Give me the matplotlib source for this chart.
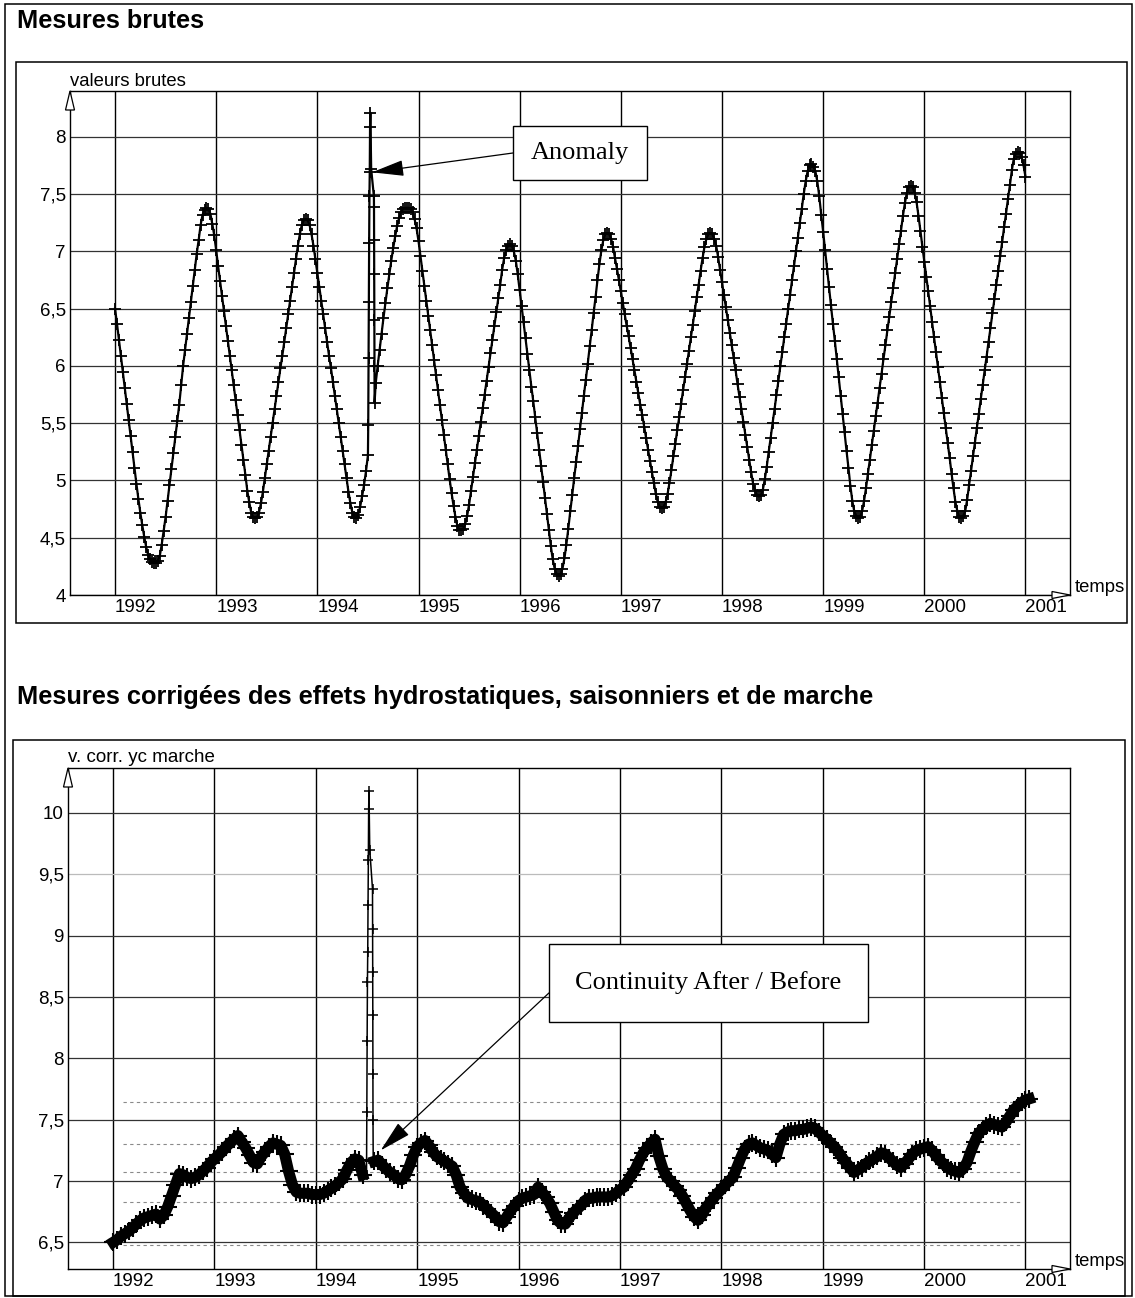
# Raw and corrected dam measurements, 1992-2001
import numpy as np
import matplotlib
matplotlib.use("Agg")
import matplotlib.pyplot as plt
from matplotlib.patches import Rectangle, Polygon

plt.rcParams['font.family'] = ['Liberation Sans', 'DejaVu Sans']

# weekly raw readings, first one on 1 Jan 1992
raw_start = 1992.0
raw_step = 1 / 52
raw_values = [
    6.50, 6.37, 6.23, 6.09, 5.95, 5.81, 5.67, 5.53, 5.39, 5.25, 5.11, 4.97, 4.84, 4.72, 4.61, 4.51, 4.42, 4.35, 4.31, 4.29, 4.28,
    4.28, 4.30, 4.34, 4.44, 4.56, 4.68, 4.82, 4.96, 5.10, 5.24, 5.38, 5.52, 5.66, 5.83, 6.00, 6.14, 6.28, 6.42, 6.56, 6.70, 6.84, 6.98, 7.10, 7.23, 7.32, 7.36, 7.38,
    7.37, 7.33, 7.24, 7.14, 7.01, 6.87, 6.74, 6.61, 6.48, 6.35, 6.22, 6.09, 5.96, 5.83, 5.70, 5.57, 5.44, 5.31, 5.18, 5.05, 4.91, 4.81, 4.72, 4.68, 4.67,
    4.68, 4.72, 4.80, 4.90, 5.02, 5.14, 5.26, 5.38, 5.50, 5.62, 5.74, 5.86, 5.98, 6.09, 6.21, 6.33, 6.45, 6.57, 6.69, 6.81, 6.93, 7.05, 7.15, 7.23, 7.27, 7.28,
    7.27, 7.23, 7.15, 7.05, 6.93, 6.81, 6.69, 6.57, 6.45, 6.33, 6.21, 6.09, 5.98, 5.86, 5.74, 5.62, 5.50, 5.38, 5.26, 5.14, 5.02, 4.90, 4.80, 4.72, 4.68, 4.67,
    4.70, 4.77, 4.86, 4.96, 5.08, 5.20, 5.33, 5.46, 5.60, 5.85, 6.00, 6.14, 6.28, 6.42, 6.55, 6.68, 6.80, 6.92, 7.03, 7.13, 7.22, 7.29, 7.34, 7.37, 7.38, 7.38, 7.38, 7.37,
    7.34, 7.28, 7.20, 7.09, 6.96, 6.83, 6.70, 6.57, 6.44, 6.31, 6.18, 6.05, 5.92, 5.79, 5.66, 5.53, 5.40, 5.27, 5.14, 5.01, 4.89, 4.78, 4.68, 4.60, 4.57, 4.57,
    4.58, 4.62, 4.69, 4.79, 4.91, 5.03, 5.15, 5.27, 5.39, 5.51, 5.63, 5.75, 5.87, 5.99, 6.11, 6.23, 6.35, 6.47, 6.59, 6.71, 6.84, 6.94, 7.01, 7.05, 7.06,
    7.05, 7.00, 6.92, 6.80, 6.66, 6.52, 6.38, 6.24, 6.10, 5.96, 5.82, 5.69, 5.55, 5.41, 5.27, 5.13, 4.99, 4.85, 4.71, 4.57, 4.43, 4.31, 4.23, 4.18, 4.17,
    4.18, 4.23, 4.32, 4.44, 4.58, 4.73, 4.87, 5.02, 5.16, 5.30, 5.45, 5.59, 5.74, 5.88, 6.02, 6.17, 6.31, 6.46, 6.60, 6.75, 6.89, 7.01, 7.10, 7.15, 7.16,
    7.15, 7.11, 7.04, 6.94, 6.85, 6.75, 6.65, 6.55, 6.45, 6.35, 6.26, 6.16, 6.06, 5.96, 5.86, 5.76, 5.66, 5.57, 5.47, 5.37, 5.27, 5.17, 5.07, 4.98, 4.88, 4.81, 4.77, 4.76,
    4.77, 4.81, 4.88, 4.98, 5.09, 5.21, 5.32, 5.44, 5.55, 5.67, 5.79, 5.90, 6.02, 6.13, 6.25, 6.36, 6.48, 6.60, 6.71, 6.83, 6.94, 7.04, 7.11, 7.15, 7.16,
    7.15, 7.11, 7.05, 6.95, 6.84, 6.73, 6.62, 6.51, 6.40, 6.29, 6.18, 6.07, 5.96, 5.84, 5.73, 5.62, 5.51, 5.40, 5.29, 5.18, 5.07, 4.97, 4.91, 4.87, 4.86,
    4.87, 4.92, 5.01, 5.12, 5.25, 5.37, 5.50, 5.62, 5.75, 5.87, 6.00, 6.12, 6.25, 6.37, 6.50, 6.62, 6.75, 6.87, 7.00, 7.12, 7.25, 7.37, 7.50, 7.61, 7.70, 7.75, 7.76,
    7.74, 7.70, 7.61, 7.48, 7.32, 7.17, 7.01, 6.85, 6.69, 6.53, 6.37, 6.22, 6.06, 5.90, 5.74, 5.58, 5.42, 5.26, 5.11, 4.95, 4.82, 4.73, 4.69, 4.67,
    4.68, 4.73, 4.82, 4.93, 5.06, 5.18, 5.31, 5.43, 5.56, 5.68, 5.81, 5.93, 6.06, 6.18, 6.31, 6.43, 6.56, 6.68, 6.81, 6.93, 7.06, 7.18, 7.31, 7.42, 7.51, 7.56, 7.57,
    7.56, 7.51, 7.43, 7.31, 7.18, 7.04, 6.91, 6.78, 6.65, 6.52, 6.38, 6.25, 6.12, 5.99, 5.86, 5.72, 5.59, 5.46, 5.33, 5.20, 5.06, 4.93, 4.81, 4.73, 4.68, 4.67,
    4.69, 4.73, 4.83, 4.96, 5.08, 5.21, 5.33, 5.46, 5.58, 5.71, 5.83, 5.96, 6.08, 6.21, 6.33, 6.46, 6.58, 6.71, 6.83, 6.96, 7.08, 7.21, 7.33, 7.46, 7.58, 7.71, 7.81, 7.85, 7.87,
    7.86, 7.82, 7.75, 7.65,
]

# corrected values (hydrostatic, seasonal and drift effects removed), every 2 weeks
corr_start = 1992.0
corr_step = 2 / 52
corr_values = [
    6.50, 6.52, 6.55, 6.57, 6.59, 6.62, 6.65, 6.68, 6.70, 6.71, 6.72, 6.73, 6.69,
    6.72, 6.79, 6.88, 6.97, 7.06, 7.05, 7.03, 7.02, 7.03, 7.05, 7.08, 7.11, 7.15,
    7.18, 7.21, 7.24, 7.28, 7.31, 7.34, 7.37, 7.32, 7.27, 7.21, 7.15, 7.14, 7.20,
    7.24, 7.28, 7.31, 7.30, 7.29, 7.22, 7.08, 6.97, 6.91, 6.90, 6.90, 6.90, 6.89,
    6.89, 6.89, 6.90, 6.92, 6.94, 6.96, 6.99, 7.02, 7.09, 7.15, 7.18, 7.17, 7.05,
    7.04, 7.10, 7.16, 7.17, 7.13, 7.10, 7.07, 7.05, 7.02, 7.01, 7.05, 7.12, 7.21,
    7.28, 7.31, 7.33, 7.29, 7.24, 7.20, 7.18, 7.16, 7.14, 7.12, 7.05, 6.95, 6.90,
    6.86, 6.85, 6.84, 6.83, 6.80, 6.77, 6.74, 6.71, 6.67, 6.66, 6.71, 6.76, 6.80,
    6.84, 6.86, 6.87, 6.88, 6.89, 6.95, 6.91, 6.87, 6.82, 6.75, 6.68, 6.65, 6.65,
    6.70, 6.74, 6.77, 6.80, 6.84, 6.86, 6.86, 6.87, 6.87, 6.87, 6.87, 6.88, 6.90,
    6.93, 6.95, 7.00, 7.05, 7.10, 7.17, 7.23, 7.27, 7.31, 7.34, 7.20, 7.10, 7.03,
    7.00, 6.96, 6.93, 6.88, 6.82, 6.76, 6.71, 6.68, 6.72, 6.78, 6.82, 6.86, 6.90,
    6.93, 6.97, 7.00, 7.03, 7.11, 7.19, 7.26, 7.30, 7.31, 7.29, 7.27, 7.26, 7.25,
    7.22, 7.19, 7.30, 7.38, 7.40, 7.41, 7.41, 7.42, 7.42, 7.43, 7.44, 7.43, 7.40,
    7.37, 7.34, 7.31, 7.28, 7.24, 7.19, 7.15, 7.11, 7.07, 7.09, 7.11, 7.14, 7.16,
    7.18, 7.20, 7.23, 7.22, 7.19, 7.16, 7.13, 7.11, 7.14, 7.18, 7.22, 7.25, 7.26,
    7.27, 7.28, 7.25, 7.21, 7.17, 7.14, 7.11, 7.09, 7.08, 7.07, 7.10, 7.15, 7.24,
    7.32, 7.39, 7.42, 7.45, 7.47, 7.46, 7.45, 7.44, 7.48, 7.53, 7.58, 7.61, 7.64,
    7.66, 7.67,
]

# the anomaly in summer 1994: closely spaced readings
anomaly_dates = [1994.500, 1994.503, 1994.506, 1994.509, 1994.512, 1994.515, 1994.518, 1994.521, 1994.524,
                 1994.532, 1994.559, 1994.560, 1994.561, 1994.562, 1994.563, 1994.564, 1994.566]
anomaly_raw = [5.22, 5.48, 6.07, 6.56, 7.07, 7.48, 7.69, 8.09, 8.21,
               7.72, 7.48, 7.39, 7.10, 6.80, 6.40, 6.00, 5.68]
anomaly_corr = [7.05, 7.56, 8.14, 8.62, 8.87, 9.25, 9.62, 10.03, 10.18,
                9.70, 9.38, 9.05, 8.70, 8.35, 7.87, 7.50, 7.15]

# dotted reference levels on the corrected chart
ref_levels = [7.64, 7.30, 7.07, 6.83, 6.48]

years = list(range(1992, 2002))
raw_ticks = [4, 4.5, 5, 5.5, 6, 6.5, 7, 7.5, 8]
raw_labels = ['4', '4,5', '5', '5,5', '6', '6,5', '7', '7,5', '8']
corr_ticks = [6.5, 7, 7.5, 8, 8.5, 9, 9.5, 10]
corr_labels = ['6,5', '7', '7,5', '8', '8,5', '9', '9,5', '10']


def merge(start, step, values, extra_t, extra_v):
    t = start + step * np.arange(len(values))
    v = np.array(values)
    keep = (t < extra_t[0] - 1e-4) | (t > extra_t[-1] + 1e-4)
    tt = np.concatenate([t[keep], extra_t])
    vv = np.concatenate([v[keep], extra_v])
    order = np.argsort(tt)
    return tt[order], vv[order], t[keep], v[keep]


raw_t, raw_v, _, _ = merge(raw_start, raw_step, raw_values, anomaly_dates, anomaly_raw)
corr_t, corr_v, reg_t, reg_v = merge(corr_start, corr_step, corr_values, anomaly_dates, anomaly_corr)

W, H = 1135, 1298
fig = plt.figure(figsize=(W / 100, H / 100), dpi=100)


def fx(x):
    return x / W


def fy(y):
    return 1 - y / H


ax1 = fig.add_axes([fx(70), fy(595), fx(1070) - fx(70), fy(91) - fy(595)])
ax2 = fig.add_axes([fx(68), fy(1269), fx(1070) - fx(68), fy(768) - fy(1269)])

TICK = 13.5


def style(ax, ylim, ticks, labels, light=()):
    ax.set_xlim(1991.555, 2001.44)
    ax.set_ylim(*ylim)
    ax.set_xticks(years)
    ax.set_xticklabels([str(y) for y in years], ha='left', fontsize=TICK)
    ax.set_yticks(ticks)
    ax.set_yticklabels(labels, fontsize=TICK)
    ax.tick_params(length=0, pad=3)
    for y in years:
        ax.axvline(y, color='black', lw=1.0, zorder=1)
    for v in ticks:
        ax.axhline(v, color='#bbbbbb' if v in light else '#333333', lw=0.9, zorder=1)
    for s in ax.spines.values():
        s.set_color('black')
        s.set_linewidth(1.0)
    # hollow arrow heads at the end of both axes
    wpx = ax.get_position().width * W
    hpx = ax.get_position().height * H
    ax.add_patch(Polygon([[0, 1], [-4.5 / wpx, 1 - 19 / hpx], [4.5 / wpx, 1 - 19 / hpx]],
                         closed=True, fc='white', ec='black', lw=0.9,
                         transform=ax.transAxes, clip_on=False, zorder=6))
    ax.add_patch(Polygon([[1, 0], [1 - 18 / wpx, 3.5 / hpx], [1 - 18 / wpx, -3.5 / hpx]],
                         closed=True, fc='white', ec='black', lw=0.9,
                         transform=ax.transAxes, clip_on=False, zorder=6))


style(ax1, (4.0, 8.40), raw_ticks, raw_labels)
style(ax2, (6.283, 10.366), corr_ticks, corr_labels, light=(9.5,))

# top chart: raw values
ax1.plot(raw_t, raw_v, color='black', lw=1.6, marker='+', ms=8, mew=1.3, zorder=3)

# bottom chart: corrected values, drawn as a thick noisy band
ax2.hlines(ref_levels, 1992.1, 2000.95, colors='#8a8a8a', linestyles=(0, (3, 3)), lw=0.8, zorder=1)
spike = (corr_t > 1994.47) & (corr_t < 1994.59)
ax2.plot(corr_t[spike], corr_v[spike], color='black', lw=1.1, marker='+', ms=7, mew=1.1, zorder=3)
before = reg_t < 1994.5
after = reg_t > 1994.567
for part in (before, after):
    ax2.plot(reg_t[part], reg_v[part], color='black', lw=8, marker='+', ms=13, mew=1.5,
             solid_joinstyle='round', zorder=3)

# annotations
arrow = dict(arrowstyle='-|>,head_length=1.0,head_width=0.25', color='black', lw=0.9,
             shrinkA=0, shrinkB=0, mutation_scale=20)
ax1.add_patch(Rectangle((0.443, 0.8234), 0.134, 0.1072, transform=ax1.transAxes,
                        fc='white', ec='black', lw=1.0, zorder=6))
ax1.text(0.510, 0.877, 'Anomaly', transform=ax1.transAxes, ha='center', va='center',
         family='Liberation Serif', fontsize=19, zorder=7)
ax1.annotate('', xy=(1994.54, 7.69), xytext=(0.443, 0.877), textcoords='axes fraction',
             arrowprops=arrow, zorder=7)

ax2.add_patch(Rectangle((0.480, 0.493), 0.318, 0.156, transform=ax2.transAxes,
                        fc='white', ec='black', lw=1.0, zorder=6))
ax2.text(0.639, 0.571, 'Continuity After / Before', transform=ax2.transAxes, ha='center',
         va='center', family='Liberation Serif', fontsize=19, zorder=7)
ax2.annotate('', xy=(1994.64, 7.25), xytext=(0.480, 0.551), textcoords='axes fraction',
             arrowprops=arrow, zorder=7)

# titles and axis names
fig.text(fx(17), fy(21), 'Mesures brutes', fontsize=18.3, fontweight='bold', va='center')
fig.text(fx(17), fy(697), 'Mesures corrigées des effets hydrostatiques, saisonniers et de marche',
         fontsize=18.3, fontweight='bold', va='center')
fig.text(fx(70), fy(81), 'valeurs brutes', fontsize=13.3, va='center')
fig.text(fx(68), fy(758), 'v. corr. yc marche', fontsize=13.5, va='center')
fig.text(fx(1075), fy(587), 'temps', fontsize=13.3, va='center')
fig.text(fx(1075), fy(1262), 'temps', fontsize=13.3, va='center')

# frames
for x0, y0, x1, y1 in [(5, 4, 1132, 1296), (16, 62, 1127, 623), (13, 740, 1125, 1296)]:
    fig.add_artist(Rectangle((fx(x0), fy(y1)), fx(x1) - fx(x0), fy(y0) - fy(y1),
                             transform=fig.transFigure, fill=False, ec='black', lw=1.1))

fig.savefig('out.png', dpi=100)
